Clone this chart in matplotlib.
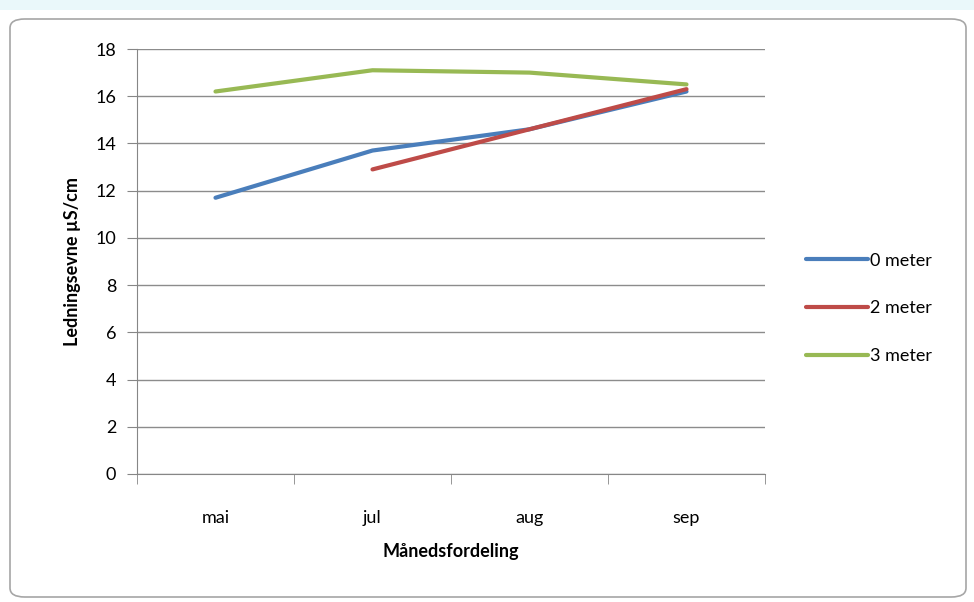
import numpy as np
import matplotlib
matplotlib.use('Agg')
import matplotlib.pyplot as plt
from matplotlib.patches import FancyBboxPatch, Rectangle

# data
months = ['mai', 'jul', 'aug', 'sep']
meter_0 = [11.7, 13.7, 14.6, 16.2]
meter_2 = [np.nan, 12.9, 14.6, 16.3]
meter_3 = [16.2, 17.1, 17.0, 16.5]
series_names = ['0 meter', '2 meter', '3 meter']
series_colors = ['#4A7EBB', '#BE4B48', '#98B954']

plt.rcParams['font.family'] = ['Lato', 'DejaVu Sans']

fig = plt.figure(figsize=(9.74, 6.02), dpi=100)

# excel-ish ruler strip at the top and chart frame
fig.patches.append(Rectangle((0, 1 - 10 / 602), 1, 10 / 602, transform=fig.transFigure,
                             facecolor='#EAF8FA', edgecolor='none', zorder=0))
fig.patches.append(FancyBboxPatch((10 / 974, 5 / 602), 956 / 974, 578 / 602,
                                  boxstyle='round,pad=0,rounding_size=0.015',
                                  transform=fig.transFigure, facecolor='white',
                                  edgecolor='#A6A6A6', linewidth=1.2, zorder=1))

ax = fig.add_axes([137 / 974, 128 / 602, 628 / 974, 425 / 602])
ax.set_zorder(2)
ax.patch.set_alpha(0)

x = np.arange(len(months))
for vals, name, col in zip([meter_0, meter_2, meter_3], series_names, series_colors):
    ax.plot(x, vals, color=col, linewidth=3, label=name, solid_capstyle='round', zorder=3)

ax.set_xlim(-0.5, len(months) - 0.5)
ax.set_ylim(0, 18)
ax.set_yticks(np.arange(0, 19, 2))
ax.set_xticks(x)
ax.set_xticklabels(months)
ax.set_xticks(np.arange(-0.5, len(months), 1), minor=True)
ax.tick_params(axis='x', which='major', length=0, pad=26, labelsize=13)
ax.tick_params(axis='x', which='minor', length=7, color='#868686', direction='out')
ax.tick_params(axis='y', length=7, color='#868686', labelsize=13, pad=8)
ax.yaxis.grid(True, color='#8C8C8C', linewidth=1)
ax.set_axisbelow(True)
for s in ['top', 'right']:
    ax.spines[s].set_visible(False)
for s in ['left', 'bottom']:
    ax.spines[s].set_color('#868686')

ax.set_xlabel('Månedsfordeling', fontsize=13, fontweight='bold', labelpad=12)
ax.set_ylabel('Ledningsevne µS/cm', fontsize=13, fontweight='bold', labelpad=10)

ax.legend(loc='center left', bbox_to_anchor=(1.04, 0.39), frameon=False, fontsize=13,
          handlelength=3.4, handletextpad=0.15, labelspacing=1.75)

fig.savefig('out.png', dpi=100)
